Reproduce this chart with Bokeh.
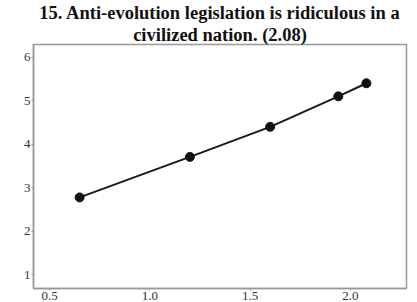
from bokeh.plotting import figure
from bokeh.models import FixedTicker, Range1d, NumeralTickFormatter, Title
from bokeh.embed import file_html
from bokeh.resources import INLINE

x_vals = [0.65, 1.2, 1.6, 1.94, 2.08]
y_vals = [2.78, 3.71, 4.40, 5.10, 5.40]
x_ticks = [0.5, 1.0, 1.5, 2.0]
y_ticks = [1, 2, 3, 4, 5, 6]
title_line1 = "15. Anti-evolution legislation is ridiculous in a"
title_line2 = "civilized nation. (2.08)"

p = figure(width=417, height=302, output_backend="svg", toolbar_location=None,
           x_range=Range1d(0.42, 2.28), y_range=Range1d(0.69, 6.29),
           min_border_left=33, min_border_right=11, min_border_top=6, min_border_bottom=2)

def style_title(t):
    t.align = "center"
    t.text_font = "Liberation Serif"
    t.text_font_style = "bold"
    t.text_font_size = "18.5px"
    t.text_color = "#111111"
    t.standoff = 0

p.title.text = title_line1
style_title(p.title)
t2 = Title(text=title_line2)
style_title(t2)
p.add_layout(t2, "above")

p.line(x_vals, y_vals, line_color="#1a1a1a", line_width=2)
p.scatter(x_vals, y_vals, size=9, fill_color="#111111", line_color="#111111")

p.xgrid.visible = False
p.ygrid.visible = False
p.outline_line_color = "#999999"
p.outline_line_width = 1.5

for ax in (p.xaxis[0], p.yaxis[0]):
    ax.axis_line_color = "#999999"
    ax.axis_line_width = 1.5
    ax.major_tick_line_color = "#999999"
    ax.major_tick_out = 2
    ax.major_tick_in = 0
    ax.minor_tick_line_color = None
    ax.major_label_text_font = "Liberation Serif"
    ax.major_label_text_font_size = "13px"
    ax.major_label_text_color = "#333333"
    ax.major_label_standoff = 1

p.xaxis[0].ticker = FixedTicker(ticks=x_ticks)
p.xaxis[0].formatter = NumeralTickFormatter(format="0.0")
p.yaxis[0].ticker = FixedTicker(ticks=y_ticks)

open("out.html", "w").write(file_html(p, INLINE))
